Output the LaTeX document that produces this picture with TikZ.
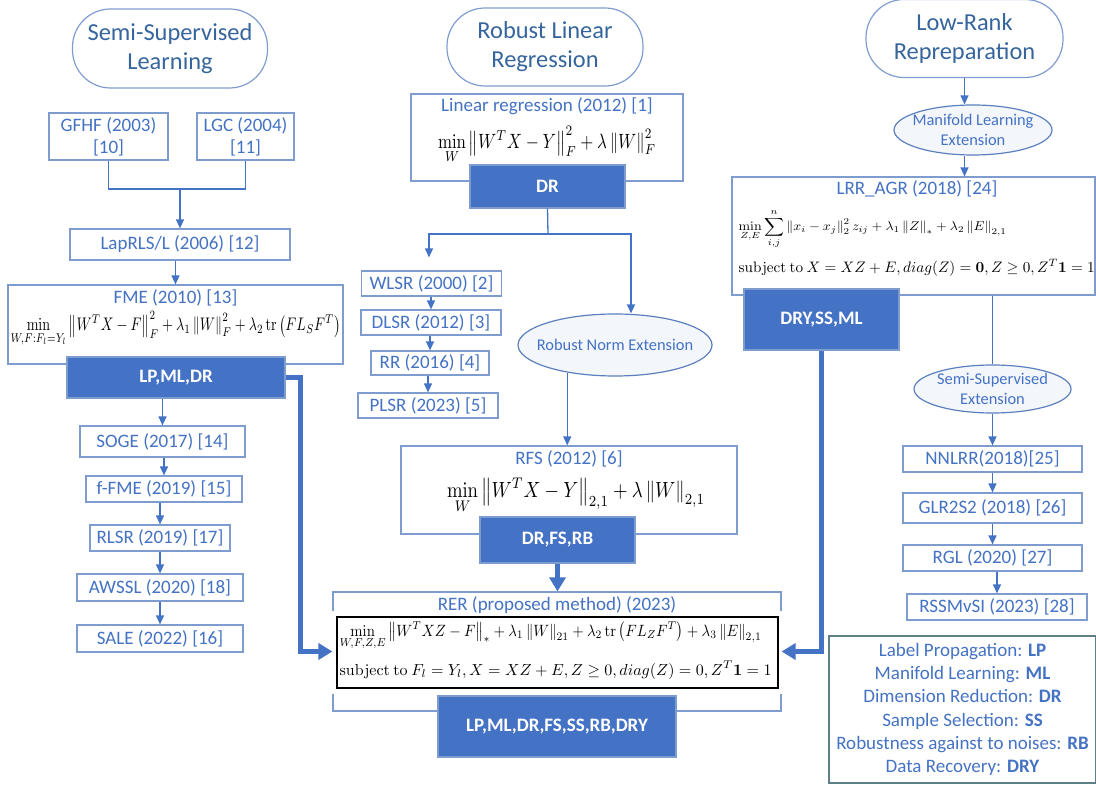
\documentclass[tikz,border=0pt]{standalone}
\usepackage{amsmath}
\usepackage[no-math]{fontspec}
\setmainfont{Carlito}
\usepackage{graphicx}
\usetikzlibrary{arrows.meta,positioning,shapes.geometric}

\definecolor{boxline}{HTML}{7F9CCF}
\definecolor{txtblue}{HTML}{4472C4}
\definecolor{ovaltxt}{HTML}{35659C}
\definecolor{tagfill}{HTML}{4472C4}
\definecolor{extline}{HTML}{5B80BD}
\definecolor{extfill}{HTML}{F3F6FB}
\definecolor{legline}{HTML}{5F7F86}

\newcommand{\fitw}[2]{\resizebox{#1}{!}{$\displaystyle #2$}}
\newcommand{\fitwh}[3]{\resizebox*{#1}{#2}{$\displaystyle #3$}}

\begin{document}
\begin{tikzpicture}[x=0.5pt, y=-0.5pt, >={Triangle[length=4.5pt,width=4pt]}, line width=0.6pt,
  familyoval/.style = {draw=boxline, rounded corners=19pt, align=center, text=ovaltxt, inner sep=0pt, font=\fontsize{12.2}{14.5}\selectfont},
  method/.style = {draw=boxline, fill=white, text=txtblue, align=center, inner sep=0pt, font=\fontsize{9.5}{11}\selectfont},
  methodframe/.style = {draw=boxline, fill=white, inner sep=0pt},
  boxtitle/.style = {text=txtblue, inner sep=0pt, font=\fontsize{9.5}{11}\selectfont},
  tagbox/.style = {fill=tagfill, draw=boxline, text=white, inner sep=0pt, font=\fontsize{9.5}{11}\selectfont\bfseries},
  extoval/.style = {ellipse, draw=extline, fill=extfill, text=txtblue, align=center, inner xsep=-8pt, inner ysep=-2pt, font=\fontsize{8.2}{10}\selectfont},
  formula/.style = {inner sep=0pt},
  conn/.style = {->, draw=txtblue, line width=0.65pt},
  bigconn/.style = {-{Triangle[length=7pt,width=8pt]}, draw=tagfill, line width=2.2pt},
]
\useasboundingbox (0,0) rectangle (1096,785);

% semi-supervised learning branch
\node[familyoval, minimum width=97.5pt, minimum height=39.5pt] (ssl) at (170,48.5) {Semi-Supervised\\Learning};
\node[method, minimum width=59.5pt, minimum height=23.5pt] (gfhf) at (108.5,136.5) {GFHF (2003)\\{[10]}};
\node[method, minimum width=48.5pt, minimum height=23.5pt] (lgc) at (245.5,136.5) {LGC (2004)\\{[11]}};
\coordinate (ssljoin) at (180,189);
\node[method, minimum width=110pt, minimum height=15.5pt] (laprls) at (180,244.5) {LapRLS/L (2006) [12]};
\node[methodframe, minimum width=167.5pt, minimum height=39.5pt] (fme) at (175.5,324.5) {};
\node[boxtitle] (fmeT) at (175.5,298) {FME (2010) [13]};
\node[formula] (fmeF) at (175.5,329) {\fitwh{165pt}{18pt}{\min_{W,F:F_l=Y_l}\left\|W^TX-F\right\|_F^2+\lambda_1\left\|W\right\|_F^2+\lambda_2\operatorname{tr}\left(FL_SF^T\right)}};
\node[tagbox, minimum width=109pt, minimum height=20.5pt] (lpmldr) at (176,377.5) {LP,ML,DR};
\node[method, minimum width=82.5pt, minimum height=15.5pt] (soge) at (162.5,441.5) {SOGE (2017) [14]};
\node[method, minimum width=78pt, minimum height=13pt] (ffme) at (164,489) {f-FME (2019) [15]};
\node[method, minimum width=70pt, minimum height=13pt] (rlsr) at (160,538) {RLSR (2019) [17]};
\node[method, minimum width=83pt, minimum height=13.5pt] (awssl) at (160,587.5) {AWSSL (2020) [18]};
\node[method, minimum width=83pt, minimum height=13.5pt] (sale) at (160,638.5) {SALE (2022) [16]};

% robust linear regression branch
\node[familyoval, minimum width=98pt, minimum height=39pt] (rlr) at (545,47) {Robust Linear\\Regression};
\node[methodframe, minimum width=136pt, minimum height=43.5pt] (lr) at (547,137.5) {};
\node[boxtitle] (lrT) at (547,106) {Linear regression (2012) [1]};
\node[formula] (lrF) at (547,145) {\fitwh{109pt}{19pt}{\min_W\left\|W^TX-Y\right\|_F^2+\lambda\left\|W\right\|_F^2}};
\node[tagbox, minimum width=77.5pt, minimum height=21.5pt] (dr) at (547.5,186.5) {DR};
\coordinate (split) at (548,234);
\node[method, minimum width=70pt, minimum height=12.5pt] (wlsr) at (431.5,283.5) {WLSR (2000) [2]};
\node[method, minimum width=70pt, minimum height=12.5pt] (dlsr) at (431,322.5) {DLSR (2012) [3]};
\node[method, minimum width=59pt, minimum height=12pt] (rr) at (430,363) {RR (2016) [4]};
\node[method, minimum width=70pt, minimum height=12.5pt] (plsr) at (428,405.5) {PLSR (2023) [5]};
\node[extoval, minimum width=97pt, minimum height=31pt] (rne) at (615,345) {Robust Norm Extension};
\node[methodframe, minimum width=168pt, minimum height=44pt] (rfs) at (569,490) {};
\node[boxtitle] (rfsT) at (569,459) {RFS (2012) [6]};
\node[formula] (rfsF) at (576,496) {\fitwh{129pt}{18pt}{\min_W\left\|W^TX-Y\right\|_{2,1}+\lambda\left\|W\right\|_{2,1}}};
\node[tagbox, minimum width=77.5pt, minimum height=23pt] (dfr) at (557.5,540) {DR,FS,RB};

% proposed method
\node[methodframe, minimum width=224pt, minimum height=59.5pt] (rer) at (557,651.5) {};
\node[draw=black, fill=white, preaction={draw=white, line width=6pt}, minimum width=220.5pt, minimum height=35.5pt, inner sep=0pt] (rerbox) at (557.5,652.5) {};
\node[boxtitle] (rerT) at (557,605) {RER (proposed method) (2023)};
\node[formula, anchor=west] (rerF1) at (339,636) {\fitwh{211pt}{14.5pt}{\min_{W,F,Z,E}\left\|W^TXZ-F\right\|_*+\lambda_1\left\|W\right\|_{21}+\lambda_2\operatorname{tr}\left(FL_ZF^T\right)+\lambda_3\left\|E\right\|_{2,1}}};
\node[formula, anchor=west] (rerF2) at (339,670) {\fitw{216pt}{\mathrm{subject\ to}\ F_l=Y_l, X=XZ+E, Z\ge0, diag(Z)=0, Z^T\mathbf{1}=1}};
\node[tagbox, minimum width=119pt, minimum height=30.5pt] (all) at (557,726.5) {LP,ML,DR,FS,SS,RB,DRY};

% low-rank branch
\node[familyoval, minimum width=98.5pt, minimum height=39pt] (lrro) at (964.5,38.5) {Low-Rank\\Repreparation};
\node[extoval, minimum width=79pt, minimum height=25pt] (mle) at (973,130) {Manifold Learning\\Extension};
\node[methodframe, minimum width=181.5pt, minimum height=59pt] (lrr) at (913.5,236) {};
\node[boxtitle] (lrrT) at (917,189) {LRR\_AGR (2018) [24]};
\node[formula, anchor=west] (lrrF1) at (738,229) {\fitwh{134pt}{19.5pt}{\min_{Z,E}\sum_{i,j}^{n}\left\|x_i-x_j\right\|_2^2z_{ij}+\lambda_1\left\|Z\right\|_*+\lambda_2\left\|E\right\|_{2,1}}};
\node[formula, anchor=west] (lrrF2) at (738,268) {\fitw{178pt}{\mathrm{subject\ to}\ X=XZ+E, diag(Z)=\mathbf{0}, Z\ge0, Z^T\mathbf{1}=1}};
\node[tagbox, minimum width=77.5pt, minimum height=30.5pt] (dry) at (821.5,319.5) {DRY,SS,ML};
\node[extoval, minimum width=78.5pt, minimum height=24pt] (sse) at (992.5,389) {Semi-Supervised\\Extension};
\node[method, minimum width=89.5pt, minimum height=13pt] (nnlrr) at (992.5,459) {NNLRR(2018)[25]};
\node[method, minimum width=89.5pt, minimum height=15pt] (glr) at (992.5,508) {GLR2S2 (2018) [26]};
\node[method, minimum width=89.5pt, minimum height=13pt] (rgl) at (992.5,558) {RGL (2020) [27]};
\node[method, minimum width=90pt, minimum height=13pt] (rssm) at (997,607) {RSSMvSI (2023) [28]};

% legend
\node[draw=legline, minimum width=133.5pt, minimum height=73.5pt, align=center, text=txtblue, inner sep=0pt, font=\fontsize{9.5}{11.6}\selectfont] (legend) at (962.5,709.5)
  {Label Propagation: \textbf{LP}\\Manifold Learning: \textbf{ML}\\Dimension Reduction: \textbf{DR}\\Sample Selection: \textbf{SS}\\Robustness against to noises: \textbf{RB}\\Data Recovery: \textbf{DRY}};

% connectors
\draw[conn, -] (gfhf.south) |- (ssljoin) -| (lgc.south);
\draw[conn] (ssljoin) -- (laprls.north);
\draw[conn] (laprls.south -| fme.north) -- (fme.north);
\draw[conn] (lpmldr.south -| soge.north) -- (soge.north);
\draw[conn] (soge.south -| ffme.north) -- (ffme.north);
\draw[conn] (ffme.south -| rlsr.north) -- (rlsr.north);
\draw[conn] (rlsr.south) -- (awssl.north);
\draw[conn] (awssl.south) -- (sale.north);
\draw[bigconn] (lpmldr.east) -- ++(15,0) |- (rer.west);

\draw[conn, -] (dr.south) -- (split);
\draw[conn] (split) -| ([xshift=-1.25pt, yshift=6.5pt]wlsr.north);
\draw[conn] (split) -| ([xshift=8pt]rne.north);
\draw[conn] (wlsr.south -| dlsr.north) -- (dlsr.north);
\draw[conn] (dlsr.south -| rr.north) -- (rr.north);
\draw[conn] (rr.south -| plsr.north) -- (plsr.north);
\draw[conn] (rne.210) -- (rne.210 |- rfs.north);
\draw[bigconn] (dfr.south) -- (dfr.south |- rer.north);

\draw[conn] (lrro.south) -- (lrro.south |- mle.north);
\draw[conn] (lrro.south |- mle.south) -- (lrro.south |- lrr.north);
\draw[bigconn] (dry.south) |- (rer.east);
\draw[conn, -] (lrr.south -| sse.north) -- (sse.north);
\draw[conn] (sse.south) -- (nnlrr.north);
\draw[conn] (nnlrr.south) -- (glr.north);
\draw[conn] (glr.south) -- (rgl.north);
\draw[conn] (rgl.south -| rssm.north) -- (rssm.north);
\end{tikzpicture}
\end{document}
